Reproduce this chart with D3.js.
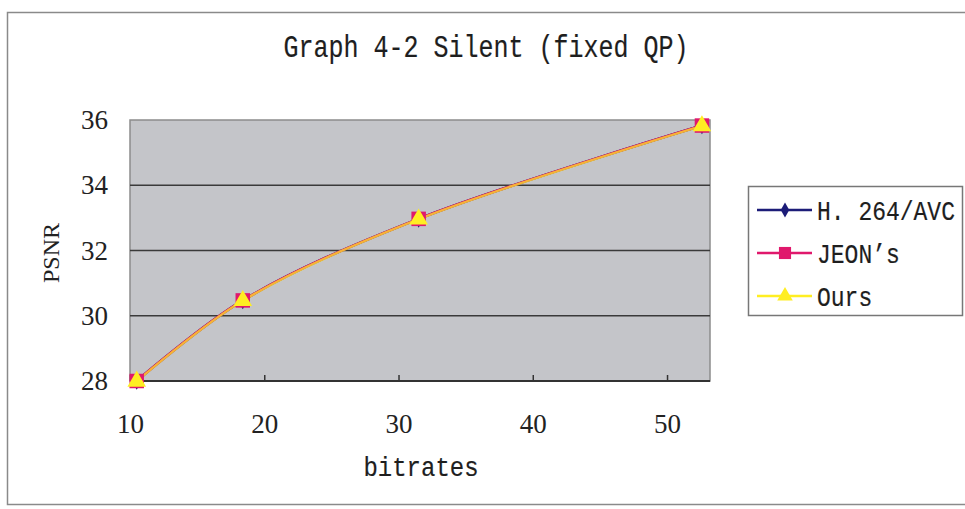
<!DOCTYPE html>
<html>
<head>
<meta charset="utf-8">
<script src="https://cdn.jsdelivr.net/npm/d3@7"></script>
<style>
  body { margin: 0; background: #fff; }
  .axis path { display: none; }
</style>
</head>
<body>
<div id="chart"></div>
<script>
const bitrates = [10.5, 18.4, 31.5, 52.6];
const h264 = [28.0, 30.47, 32.97, 35.83];
const jeon = [28.0, 30.47, 32.97, 35.83];
const ours = [27.99, 30.46, 32.96, 35.82];
const seriesNames = ["H. 264/AVC", "JEON’s", "Ours"];
const xTicks = [10, 20, 30, 40, 50];
const yTicks = [28, 30, 32, 34, 36];

const width = 965;
const height = 509;
const plot = { left: 130, right: 710, top: 120, bottom: 381 };

const svg = d3
  .select("#chart")
  .append("svg")
  .attr("width", width)
  .attr("height", height);

// outer chart frame
svg
  .append("rect")
  .attr("x", 7.5)
  .attr("y", 12.5)
  .attr("width", 980)
  .attr("height", 492)
  .attr("fill", "#fff")
  .attr("stroke", "#8a8a8a")
  .attr("stroke-width", 1.5);

// mono text stretched a bit taller, like the narrow mincho face of the original
function monoText(sel, size) {
  return sel
    .style("font-family", "Liberation Mono")
    .style("font-size", size + "px")
    .attr("fill", "#1e1e1e")
    .attr("stroke", "#1e1e1e")
    .attr("stroke-width", 0.15);
}

monoText(
  svg
    .append("text")
    .attr("transform", "translate(486,57) scale(1,1.22)")
    .attr("text-anchor", "middle"),
  25,
).text("Graph 4-2 Silent (fixed QP)");

const x = d3.scaleLinear().domain([10, 53.2]).range([plot.left, plot.right]);
const y = d3.scaleLinear().domain([28, 36]).range([plot.bottom, plot.top]);

// plot area
svg
  .append("rect")
  .attr("x", plot.left)
  .attr("y", plot.top)
  .attr("width", plot.right - plot.left)
  .attr("height", plot.bottom - plot.top)
  .attr("fill", "#c4c5c9")
  .attr("stroke", "#8c8c8c")
  .attr("stroke-width", 1.5);

svg
  .append("g")
  .selectAll("line")
  .data(yTicks.filter((d) => d > 28 && d < 36))
  .join("line")
  .attr("x1", plot.left)
  .attr("x2", plot.right)
  .attr("y1", (d) => y(d))
  .attr("y2", (d) => y(d))
  .attr("stroke", "#3a3a3a")
  .attr("stroke-width", 1.5);

const xAxis = svg
  .append("g")
  .attr("class", "axis")
  .attr("transform", `translate(0,${plot.bottom})`)
  .call(d3.axisBottom(x).tickValues(xTicks).tickSize(-6).tickPadding(33));
xAxis.selectAll("line").attr("stroke", "#333").attr("stroke-width", 1.5);
xAxis
  .selectAll("text")
  .style("font-family", "Liberation Serif")
  .style("font-size", "27px")
  .attr("fill", "#222");
svg
  .append("line")
  .attr("x1", plot.left)
  .attr("x2", plot.right)
  .attr("y1", plot.bottom)
  .attr("y2", plot.bottom)
  .attr("stroke", "#333")
  .attr("stroke-width", 2);

const yAxis = svg
  .append("g")
  .attr("class", "axis")
  .attr("transform", `translate(${plot.left},0)`)
  .call(d3.axisLeft(y).tickValues(yTicks).tickSize(0).tickPadding(22));
yAxis
  .selectAll("text")
  .style("font-family", "Liberation Serif")
  .style("font-size", "27px")
  .attr("fill", "#222");

monoText(
  svg
    .append("text")
    .attr("transform", "translate(421,476) scale(1,1.18)")
    .attr("text-anchor", "middle"),
  24,
).text("bitrates");

svg
  .append("text")
  .attr("transform", "translate(59,253) rotate(-90)")
  .attr("text-anchor", "middle")
  .style("font-family", "Liberation Serif")
  .style("font-size", "24px")
  .attr("fill", "#222")
  .text("PSNR");

const series = [
  { name: seriesNames[0], values: h264, color: "#1c1c78", marker: d3.symbolDiamond, size: 90, opacity: 1 },
  { name: seriesNames[1], values: jeon, color: "#e0186c", marker: d3.symbolSquare, size: 210, opacity: 1 },
  { name: seriesNames[2], values: ours, color: "#ffee22", marker: d3.symbolTriangle, size: 150, opacity: 0.72 },
];

const line = d3
  .line()
  .x((d) => x(d[0]))
  .y((d) => y(d[1]))
  .curve(d3.curveCatmullRom);

series.forEach((s) => {
  const pts = bitrates.map((b, i) => [b, s.values[i]]);
  svg
    .append("path")
    .attr("d", line(pts))
    .attr("fill", "none")
    .attr("stroke", s.color)
    .attr("stroke-opacity", s.opacity)
    .attr("stroke-width", 2.5);
});

series.forEach((s) => {
  svg
    .append("g")
    .selectAll("path")
    .data(bitrates.map((b, i) => [b, s.values[i]]))
    .join("path")
    .attr("transform", (d) => `translate(${x(d[0])},${y(d[1])})`)
    .attr("d", d3.symbol().type(s.marker).size(s.size))
    .attr("fill", s.color);
});

// legend
const legend = svg.append("g").attr("transform", "translate(748,186)");
legend
  .append("rect")
  .attr("x", 0.5)
  .attr("y", 0.5)
  .attr("width", 214)
  .attr("height", 129)
  .attr("fill", "#fff")
  .attr("stroke", "#777")
  .attr("stroke-width", 1.5);

const legendY = d3.scalePoint().domain(seriesNames).range([24, 110]);
series.forEach((s) => {
  const g = legend.append("g").attr("transform", `translate(0,${legendY(s.name)})`);
  g.append("line")
    .attr("x1", 9)
    .attr("x2", 64)
    .attr("stroke", s.color)
    .attr("stroke-width", 2.5);
  g.append("path")
    .attr("transform", "translate(37,0)")
    .attr("d", d3.symbol().type(s.marker).size(s.size * 0.7))
    .attr("fill", s.color);
  monoText(
    g.append("text").attr("transform", "translate(69,0) scale(1,1.2)").attr("dy", "0.35em"),
    23,
  ).text(s.name);
});
</script>
</body>
</html>
